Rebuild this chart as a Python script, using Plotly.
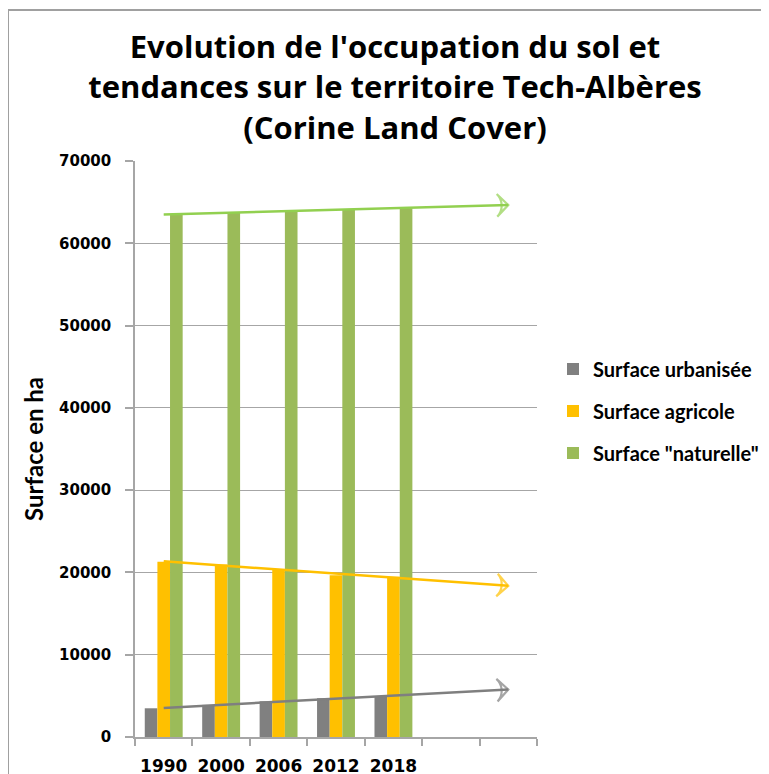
import numpy as np
import plotly.graph_objects as go

years = ["1990", "2000", "2006", "2012", "2018"]
x_pos = [1, 2, 3, 4, 5]
urbanisee = [3490, 3900, 4340, 4710, 4950]
agricole = [21290, 20975, 20370, 19670, 19460]
naturelle = [63490, 63700, 63900, 64060, 64270]

series = [
    ("Surface urbanisée", urbanisee, "#808080", "#7f7f7f"),
    ("Surface agricole", agricole, "#FFC000", "#FFC000"),
    ("Surface \"naturelle\"", naturelle, "#9BBB59", "#92D050"),
]

# page body has an 8px margin: figure is drawn from (8, 8)
OFF = 8
W, H = 769 - OFF, 774 - OFF
L, T = 135 - OFF, 161 - OFF
R, B = 232, 37
pw, ph = W - L - R, H - T - B

fig = go.Figure()
for i, (name, vals, col, tcol) in enumerate(series):
    fig.add_trace(go.Bar(x=x_pos, y=vals, name=f"<b>{name}</b>", marker_color=col,
                         marker_line_width=0, legendgroup=f"g{i}"))

# linear trendlines, forecast 2 periods forward
for i, (name, vals, col, tcol) in enumerate(series):
    a, b = np.polyfit(x_pos, vals, 1)
    xs = [1, 7]
    ys = [a * xx + b for xx in xs]
    fig.add_trace(go.Scatter(x=xs, y=ys, mode="lines+markers", showlegend=False,
                             line=dict(color=tcol, width=2.5),
                             marker=dict(size=[0, 16], symbol="arrow-wide-open",
                                         angleref="previous", color=tcol,
                                         line=dict(width=2.2, color=tcol)),
                             hoverinfo="skip"))

font_c = "Lato, 'Liberation Sans Narrow', sans-serif"
fig.update_layout(
    width=W, height=H,
    margin=dict(l=L, r=R, t=T, b=B, autoexpand=False),
    paper_bgcolor="white", plot_bgcolor="white",
    barmode="group", bargap=0.34, bargroupgap=0,
    title=dict(text="<b>Evolution de l'occupation du sol et<br>tendances sur le territoire Tech-Albères<br>(Corine Land Cover)</b>",
               x=(395 - OFF) / W, xanchor="center", xref="container",
               y=1 - (58 - OFF) / H, yanchor="top", yref="container",
               font=dict(family="'Open Sans', sans-serif", size=31, color="#000000")),
    legend=dict(x=(553 - 135) / pw, xanchor="left", y=(737 - 411) / ph, yanchor="middle",
                traceorder="grouped", tracegroupgap=13,
                font=dict(family=font_c, size=20, color="#000000"),
                bgcolor="rgba(0,0,0,0)", itemwidth=30),
    showlegend=True,
)
fig.update_xaxes(range=[0.5, 7.5], tickvals=x_pos, ticktext=[f"<b>{y}</b>" for y in years],
                 ticks="", showgrid=False, zeroline=False,
                 showline=True, linecolor="#a6a6a6", linewidth=1.5,
                 tickfont=dict(family="DejaVu Sans", size=17, color="#000000"),
                 ticklabelstandoff=13,
                 minor=dict(tick0=0.5, dtick=1, ticks="outside", ticklen=7,
                            tickcolor="#a6a6a6", tickwidth=1.5, showgrid=False))
fig.update_yaxes(range=[0, 70000], dtick=10000, tickformat="d",
                 showgrid=True, gridcolor="#a6a6a6", gridwidth=1, zeroline=False,
                 showline=True, linecolor="#a6a6a6", linewidth=1.5,
                 ticks="outside", ticklen=8, tickcolor="#a6a6a6", tickwidth=1.5,
                 tickfont=dict(family="DejaVu Sans", size=15, color="#000000"),
                 ticklabelstandoff=11,
                 tickprefix="<b>", ticksuffix="</b>",
                 title=dict(text="<b>Surface en ha</b>", standoff=9,
                            font=dict(family=font_c, size=24, color="#000000")))

# outer chart frame (left and top edges visible)
frame_x0 = (8 - 135) / pw
frame_y1 = (737 - 10) / ph
fig.add_shape(type="line", xref="paper", yref="paper", x0=frame_x0, x1=frame_x0,
              y0=-1, y1=frame_y1, line=dict(color="#a0a0a0", width=2))
fig.add_shape(type="line", xref="paper", yref="paper", x0=frame_x0, x1=2,
              y0=frame_y1, y1=frame_y1, line=dict(color="#a0a0a0", width=2))

fig.write_html("out.html")
